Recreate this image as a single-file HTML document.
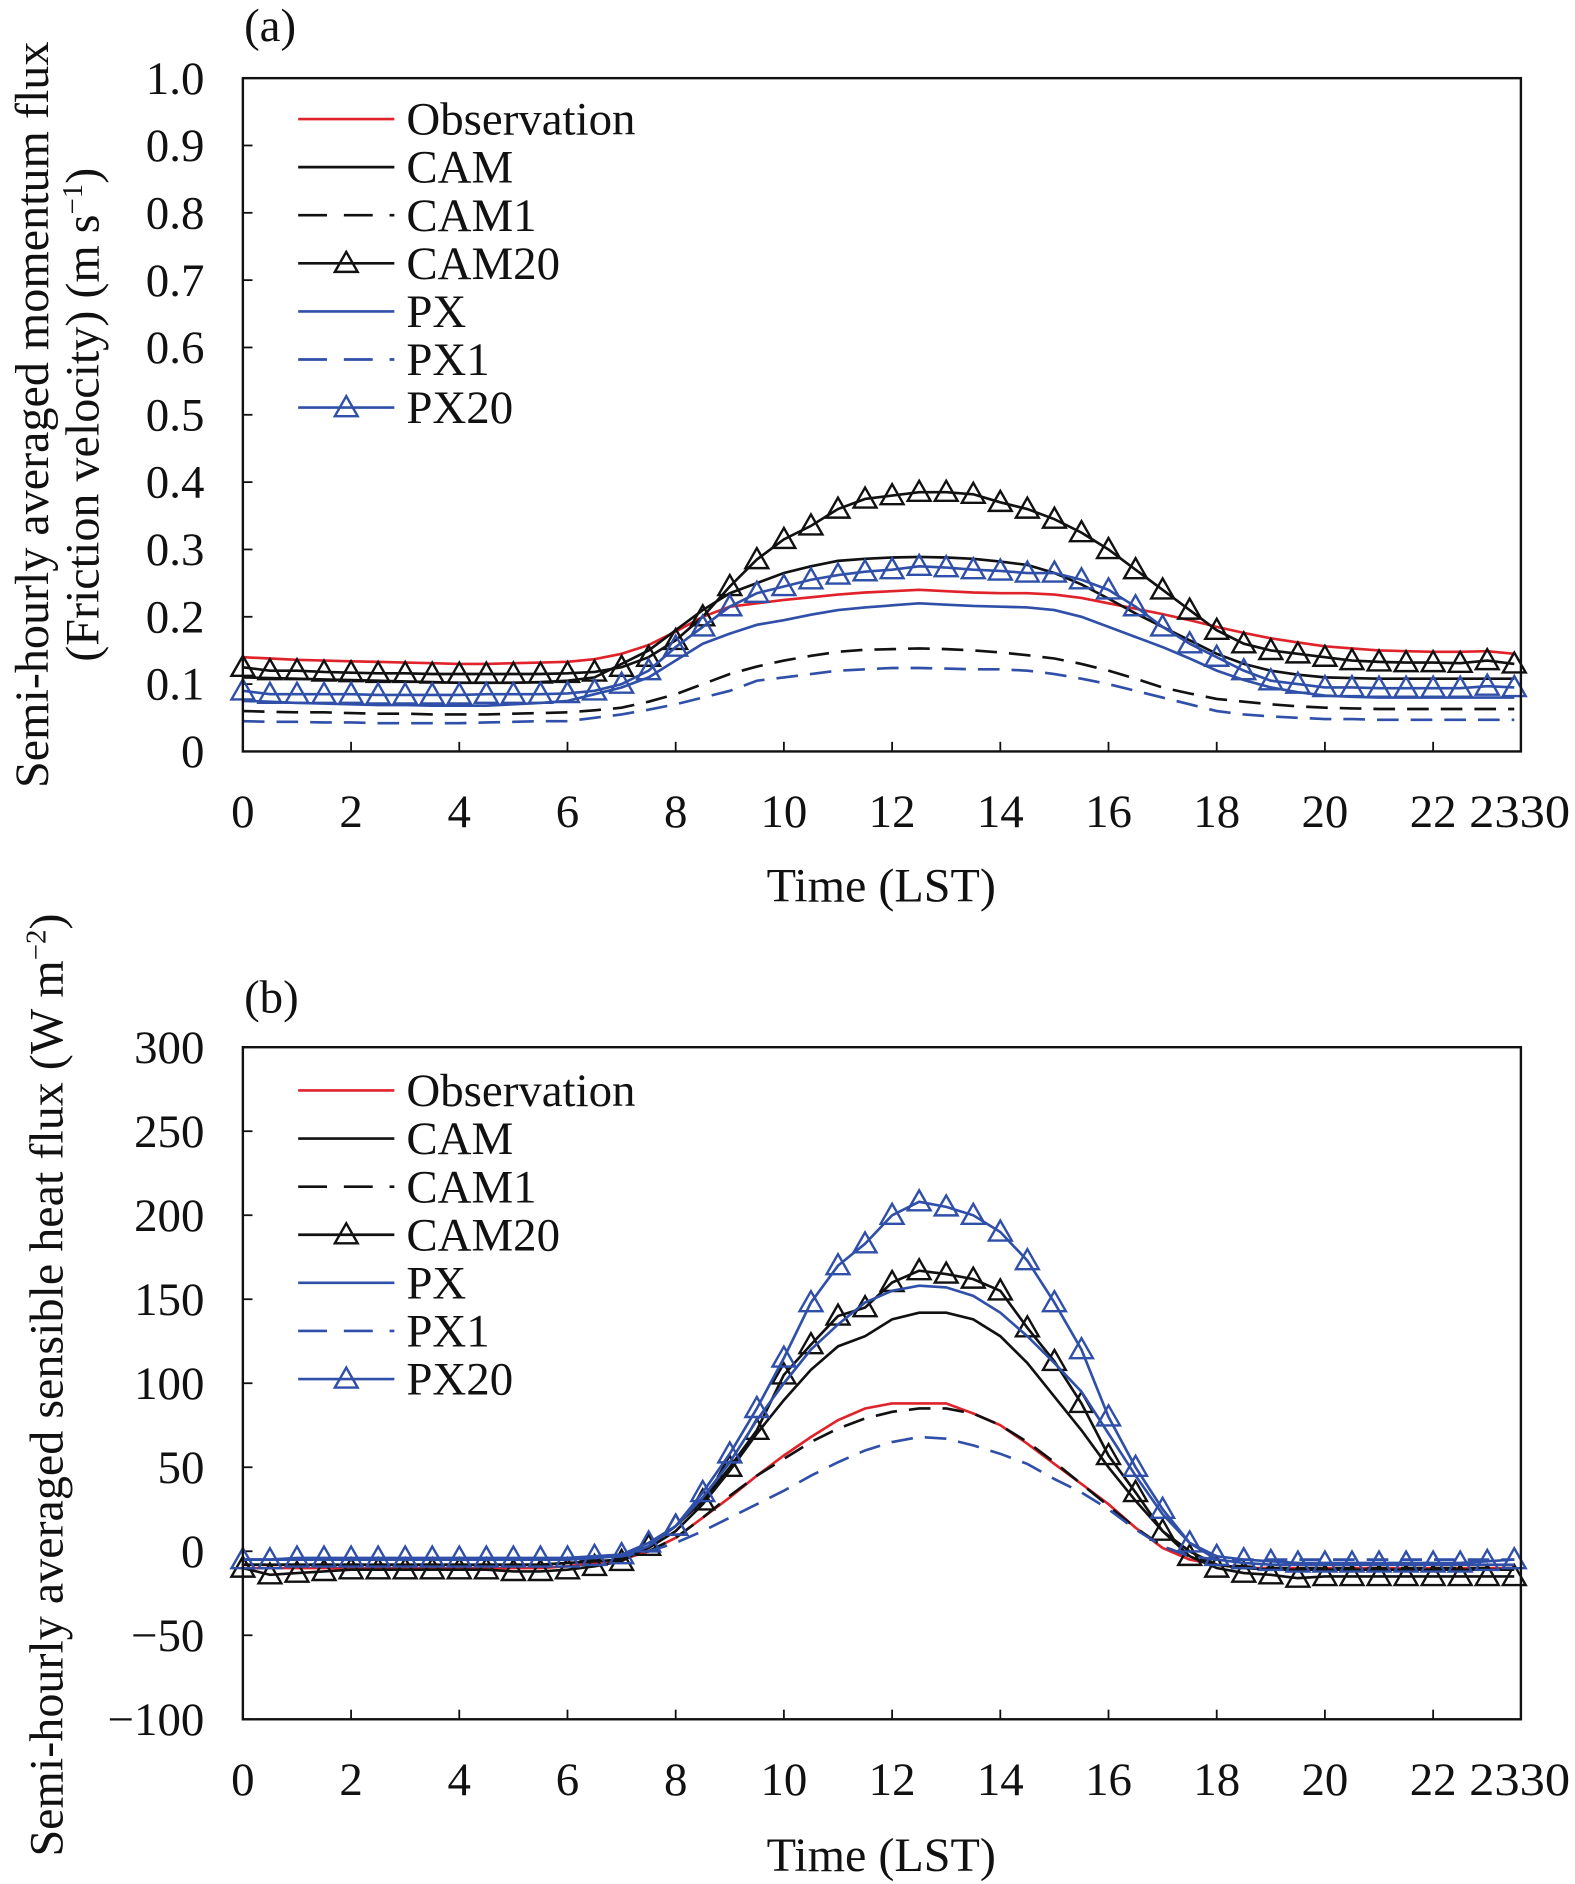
<!DOCTYPE html>
<html><head><meta charset="utf-8">
<style>
html,body{margin:0;padding:0;background:#fff;}
svg{display:block;}
text{font-family:"Liberation Serif",serif;fill:#111;}
</style></head>
<body>
<svg id="fig" width="1575" height="1884" viewBox="0 0 1310 1567" xmlns="http://www.w3.org/2000/svg"></svg>
<script>
const hours = [];
for (let i = 0; i < 48; i++) hours.push(i * 0.5);
const xTickLabels = ["0","2","4","6","8","10","12","14","16","18","20","22"];
const seriesNames = ["Observation","CAM","CAM1","CAM20","PX","PX1","PX20"];

// Panel (a) friction velocity
const aTicks = [0,0.1,0.2,0.3,0.4,0.5,0.6,0.7,0.8,0.9,1.0];
const aTickLabels = ["0","0.1","0.2","0.3","0.4","0.5","0.6","0.7","0.8","0.9","1.0"];
const aObs = [0.14,0.138,0.136,0.135,0.134,0.133,0.132,0.131,0.13,0.13,0.131,0.132,0.133,0.137,0.145,0.158,0.178,0.2,0.215,0.22,0.225,0.229,0.233,0.236,0.238,0.24,0.238,0.236,0.235,0.235,0.233,0.228,0.22,0.212,0.204,0.195,0.185,0.176,0.168,0.162,0.156,0.153,0.15,0.149,0.148,0.148,0.149,0.145];
const aCAM = [0.11,0.109,0.108,0.107,0.106,0.105,0.104,0.103,0.102,0.102,0.102,0.103,0.105,0.11,0.13,0.15,0.18,0.21,0.235,0.25,0.265,0.275,0.283,0.286,0.288,0.289,0.288,0.286,0.282,0.277,0.265,0.248,0.227,0.205,0.185,0.165,0.145,0.13,0.12,0.114,0.11,0.109,0.108,0.108,0.108,0.108,0.108,0.108];
const aCAM1 = [0.06,0.059,0.058,0.058,0.057,0.056,0.056,0.055,0.055,0.055,0.056,0.057,0.058,0.061,0.065,0.074,0.085,0.1,0.115,0.126,0.135,0.142,0.148,0.151,0.152,0.153,0.152,0.15,0.147,0.143,0.138,0.13,0.12,0.108,0.095,0.086,0.078,0.074,0.07,0.067,0.065,0.064,0.063,0.063,0.063,0.063,0.063,0.063];
const aCAM20 = [0.125,0.12,0.12,0.118,0.117,0.116,0.116,0.115,0.115,0.115,0.115,0.115,0.116,0.118,0.125,0.14,0.165,0.2,0.245,0.285,0.315,0.335,0.36,0.375,0.38,0.385,0.385,0.382,0.37,0.36,0.345,0.325,0.3,0.27,0.24,0.21,0.18,0.16,0.15,0.145,0.14,0.135,0.133,0.132,0.132,0.131,0.135,0.13];
const aPX = [0.075,0.074,0.072,0.071,0.07,0.069,0.069,0.068,0.068,0.068,0.07,0.072,0.075,0.085,0.095,0.11,0.135,0.16,0.175,0.188,0.195,0.203,0.21,0.214,0.217,0.22,0.218,0.216,0.215,0.214,0.21,0.2,0.185,0.17,0.155,0.138,0.12,0.106,0.095,0.088,0.083,0.081,0.08,0.08,0.08,0.08,0.08,0.08];
const aPX1 = [0.045,0.044,0.044,0.043,0.043,0.042,0.042,0.042,0.042,0.043,0.044,0.045,0.045,0.05,0.055,0.062,0.07,0.08,0.09,0.105,0.11,0.115,0.12,0.122,0.124,0.124,0.123,0.122,0.122,0.12,0.115,0.108,0.1,0.09,0.08,0.07,0.06,0.055,0.052,0.05,0.048,0.048,0.047,0.047,0.047,0.047,0.047,0.047];
const aPX20 = [0.09,0.085,0.085,0.085,0.085,0.084,0.084,0.084,0.084,0.085,0.085,0.085,0.086,0.09,0.1,0.12,0.155,0.185,0.215,0.235,0.245,0.255,0.262,0.267,0.27,0.275,0.273,0.27,0.268,0.265,0.265,0.255,0.24,0.215,0.185,0.16,0.14,0.12,0.105,0.1,0.095,0.095,0.094,0.094,0.094,0.094,0.097,0.095];

// Panel (b) sensible heat flux
const bTicks = [-100,-50,0,50,100,150,200,250,300];
const bTickLabels = ["\u2212100","\u221250","0","50","100","150","200","250","300"];
const bObs = [-10,-10,-10,-10,-10,-10,-10,-10,-10,-10,-10,-10,-9,-7,-5,0,8,20,32,45,57,68,78,85,88,88,88,82,75,64,52,40,28,14,2,-5,-8,-10,-10,-10,-10,-10,-10,-10,-10,-10,-10,-10];
const bCAM = [-8,-8,-8,-8,-8,-8,-8,-8,-8,-8,-8,-8,-7,-6,-5,2,12,28,48,70,90,108,122,128,138,142,142,138,128,112,92,72,50,30,12,0,-8,-10,-11,-11,-11,-11,-11,-11,-11,-11,-11,-11];
const bCAM1 = [-8,-8,-8,-8,-8,-8,-8,-8,-8,-8,-8,-8,-7,-5,-4,0,8,20,33,45,55,65,73,79,83,85,85,82,75,65,53,40,27,14,3,-3,-8,-9,-10,-10,-10,-10,-10,-10,-10,-10,-10,-10];
const bCAM20 = [-10,-14,-13,-12,-11,-11,-11,-11,-11,-11,-12,-12,-11,-9,-6,3,15,30,50,72,105,123,140,145,160,167,165,162,155,133,113,88,57,35,12,-3,-10,-13,-14,-16,-15,-15,-15,-15,-15,-15,-15,-15];
const bPX = [-5,-5,-5,-5,-5,-5,-5,-5,-5,-5,-5,-5,-5,-4,-3,3,15,32,53,78,100,120,135,148,155,158,157,152,142,128,112,95,70,45,22,5,-5,-7,-8,-8,-8,-8,-8,-8,-8,-8,-8,-8];
const bPX1 = [-5,-5,-5,-5,-5,-5,-5,-5,-5,-5,-5,-5,-5,-4,-3,0,5,12,20,28,36,45,53,60,65,68,67,63,58,52,43,35,25,13,3,-3,-5,-5,-5,-5,-5,-5,-5,-5,-5,-5,-5,-5];
const bPX20 = [-5,-5,-4,-4,-4,-4,-4,-4,-4,-4,-4,-4,-4,-3,-2,5,15,35,58,85,115,148,170,183,200,208,205,200,190,173,148,120,80,50,25,5,-3,-5,-6,-7,-7,-7,-7,-7,-7,-7,-6,-5];

const RED = "#e0232a", BLUE = "#2f4fa8", BLACK = "#111";
const FS = 39;
const NS = "http://www.w3.org/2000/svg";
const svg = document.getElementById("fig");
function mk(tag, attrs, parent) {
  const e = document.createElementNS(NS, tag);
  for (const k in attrs) e.setAttribute(k, attrs[k]);
  (parent || svg).appendChild(e);
  return e;
}

const styles = [
  {c: RED, dash: null, tri: false},
  {c: BLACK, dash: null, tri: false},
  {c: BLACK, dash: "18,10", tri: false},
  {c: BLACK, dash: null, tri: true},
  {c: BLUE, dash: null, tri: false},
  {c: BLUE, dash: "18,10", tri: false},
  {c: BLUE, dash: null, tri: true}
];

function tri(g, x, y, color) {
  const s = 9.5;
  const t = mk("polygon", {points: `${x},${y-s} ${x-s},${y+s*0.75} ${x+s},${y+s*0.75}`, fill: "none", stroke: color, "stroke-width": 2}, g);
  
  
}

function panel(opt) {
  const g = mk("g", {});
  
  
  const L = 202, R = 1265, T = opt.top, B = opt.bottom;
  const xs = h => L + h * 45;
  const ys = v => B - (v - opt.ymin) / (opt.ymax - opt.ymin) * (B - T);

  opt.ticks.forEach((v, i) => {
    const y = ys(v);
    const tk = mk("line", {x1: L, x2: L + 8, y1: y, y2: y, stroke: BLACK, "stroke-width": 1.5}, g);
    
    
    const tl = mk("text", {x: 170, y: y + 13, "text-anchor": "end", "font-size": FS}, g);
    
    
    tl.textContent = opt.tickLabels[i];
  });
  xTickLabels.forEach((lab, i) => {
    const h = i * 2;
    const x = xs(h);
    const tk = mk("line", {x1: x, x2: x, y1: B, y2: B - 8, stroke: BLACK, "stroke-width": 1.5}, g);
    
    
    const tl = mk("text", {x: x, y: B + 63, "text-anchor": "middle", "font-size": FS}, g);
    
    
    tl.textContent = lab;
  });
  const tl2 = mk("text", {x: 1222, y: B + 63, "font-size": FS, textLength: 84, lengthAdjust: "spacingAndGlyphs"}, g);
  
  
  tl2.textContent = "2330";

  opt.series.forEach((vals, si) => {
    const st = styles[si];
    const sg = mk("g", {}, g);
    
    
    const d = vals.map((v, i) => (i ? "L" : "M") + xs(hours[i]).toFixed(1) + "," + ys(v).toFixed(1)).join(" ");
    const p = mk("path", {d: d, fill: "none", stroke: st.c, "stroke-width": 2.2}, sg);
    if (st.dash) p.setAttribute("stroke-dasharray", st.dash);
    
    
    if (st.tri) vals.forEach((v, i) => tri(sg, xs(hours[i]), ys(v), st.c));
  });

  const frame = mk("rect", {x: L, y: T, width: R - L, height: B - T, fill: "none", stroke: BLACK, "stroke-width": 2}, g);
  
  

  const lg = mk("g", {}, g);
  
  
  seriesNames.forEach((nm, i) => {
    const st = styles[i];
    const y = opt.legendTop + i * 40;
    const le = mk("g", {}, lg);
    
    
    const ln = mk("line", {x1: 248, x2: 328, y1: y, y2: y, stroke: st.c, "stroke-width": 2.2}, le);
    if (st.dash) ln.setAttribute("stroke-dasharray", "24,14");
    if (st.tri) tri(le, 288, y, st.c);
    const t = mk("text", {x: 338, y: y + 13, "font-size": FS}, le);
    
    
    t.textContent = nm;
  });

  const xt = mk("text", {x: 733, y: opt.xTitleY, "text-anchor": "middle", "font-size": 40}, g);
  
  
  xt.textContent = "Time (LST)";

  const pl = mk("text", {x: opt.labelX, y: opt.labelY, "font-size": FS}, g);
  
  
  pl.textContent = opt.label;
}

panel({name: "panel-a", top: 65, bottom: 625, ymin: 0, ymax: 1, ticks: aTicks, tickLabels: aTickLabels,
  series: [aObs, aCAM, aCAM1, aCAM20, aPX, aPX1, aPX20], legendTop: 99, xTitleY: 750, label: "(a)", labelX: 203, labelY: 34});
panel({name: "panel-b", top: 871, bottom: 1430, ymin: -100, ymax: 300, ticks: bTicks, tickLabels: bTickLabels,
  series: [bObs, bCAM, bCAM1, bCAM20, bPX, bPX1, bPX20], legendTop: 907, xTitleY: 1556, label: "(b)", labelX: 203, labelY: 842});

const ya1 = mk("text", {transform: "translate(40,345) rotate(-90)", "text-anchor": "middle", "font-size": 40});


ya1.textContent = "Semi-hourly averaged momentum flux";
const ya2 = mk("text", {transform: "translate(82,345) rotate(-90)", "text-anchor": "middle", "font-size": 40});


ya2.innerHTML = '(Friction velocity) (m s<tspan dy="-14" font-size="24">\u22121</tspan><tspan dy="14">)</tspan>';
const yb = mk("text", {transform: "translate(52,1152) rotate(-90)", "text-anchor": "middle", "font-size": 40});


yb.innerHTML = 'Semi-hourly averaged sensible heat flux (W m<tspan dy="-14" font-size="24">\u22122</tspan><tspan dy="14">)</tspan>';
</script>
</body></html>
